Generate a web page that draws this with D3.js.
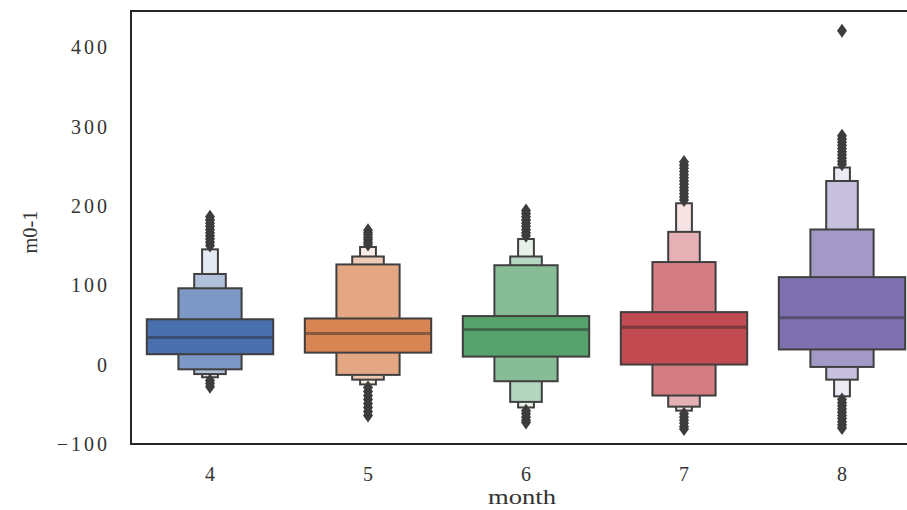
<!DOCTYPE html>
<html>
<head>
<meta charset="utf-8">
<script src="https://cdn.jsdelivr.net/npm/d3@7"></script>
<style>
  html, body { margin: 0; padding: 0; background: #fff; }
  svg { display: block; }
</style>
</head>
<body>
<svg id="chart" width="907" height="510"></svg>
<script>
// Months on the x axis
const months = ["4", "5", "6", "7", "8"];

// Letter-value boxes, innermost (widest) level first: upper and lower edges
const upperEdges = [
  [57, 96, 114, 145],
  [58, 126, 136, 148],
  [61, 125, 136, 158],
  [66, 129, 167, 203],
  [110, 170, 231, 248]
];
const lowerEdges = [
  [13, -6, -12, -16],
  [15, -13, -19, -25],
  [10, -21, -47, -54],
  [0, -39, -53, -58],
  [19, -3, -19, -40]
];
const medians = [34, 39, 44, 47, 59];

// Outlying observations per month
const outliers = [
  [150, 154, 158, 162, 166, 170, 174, 178, 182, 186, -20, -24, -28],
  [151, 154, 157, 160, 163, 166, 169, -29, -34, -39, -44, -49, -54, -59, -64],
  [162, 166, 170, 174, 178, 182, 186, 190, 194, -58, -62, -66, -70, -73],
  [207, 211, 215, 219, 223, 227, 231, 235, 239, 243, 247, 251, 255, -62, -66, -70, -74, -78, -81],
  [252, 256, 260, 264, 268, 272, 276, 280, 284, 288, 420, -44, -48, -52, -56, -60, -64, -68, -72, -76, -80]
];

const yTicks = [-100, 0, 100, 200, 300, 400];
const palette = ["#4A6FAD", "#D98453", "#57A26C", "#C24A51", "#7F71B0"];

const svg = d3.select("#chart");
const plotLeft = 131, plotTop = 11, plotBottom = 444, plotRight = 921;

const x = d3.scaleBand().domain(months).range([plotLeft, plotRight]);
const y = d3.scaleLinear().domain([-100, 445]).range([plotBottom, plotTop]);

svg.append("rect").attr("width", 907).attr("height", 510).attr("fill", "#fff");

const edge = "#3f3f3f";
const boxW = x.bandwidth() * 0.8;

// Fill for a level: base colour blended toward white (lightest at 0.85)
function levelColor(base, i, n) {
  const t = (i / (n - 1)) * 0.85;
  return d3.interpolateRgb(base, "#ffffff")(t);
}

months.forEach((m, mi) => {
  const cx = x(m) + x.bandwidth() / 2;
  const n = upperEdges[mi].length;
  const g = svg.append("g");
  // narrowest level first so wider levels sit on top
  for (let i = n - 1; i >= 0; i--) {
    const w = boxW * Math.pow(2, -i);
    g.append("rect")
      .attr("x", cx - w / 2)
      .attr("width", w)
      .attr("y", y(upperEdges[mi][i]))
      .attr("height", y(lowerEdges[mi][i]) - y(upperEdges[mi][i]))
      .attr("fill", levelColor(palette[mi], i, n))
      .attr("stroke", edge)
      .attr("stroke-width", 2);
  }
  g.append("line")
    .attr("x1", cx - boxW / 2 + 1).attr("x2", cx + boxW / 2 - 1)
    .attr("y1", y(medians[mi])).attr("y2", y(medians[mi]))
    .attr("stroke", "#262626").attr("stroke-opacity", 0.45)
    .attr("stroke-width", 3);

  const diamond = "M0,-7L5,0L0,7L-5,0Z";
  g.selectAll("path.out")
    .data(outliers[mi])
    .join("path")
    .attr("class", "out")
    .attr("d", diamond)
    .attr("transform", d => `translate(${cx},${y(d)})`)
    .attr("fill", "#3d3d3d");
});

// Frame
svg.append("rect")
  .attr("x", plotLeft).attr("y", plotTop)
  .attr("width", plotRight - plotLeft).attr("height", plotBottom - plotTop)
  .attr("fill", "none").attr("stroke", "#262626").attr("stroke-width", 2);

const fontFam = "'Liberation Serif', 'DejaVu Serif', serif";

// Y axis
const yAxis = svg.append("g")
  .attr("transform", `translate(${plotLeft},0)`)
  .call(d3.axisLeft(y).tickValues(yTicks).tickSize(0).tickPadding(0));
yAxis.select(".domain").remove();
yAxis.selectAll("text")
  .attr("x", -21)
  .attr("dy", "0.34em")
  .attr("fill", "#333")
  .style("font-family", fontFam)
  .style("font-size", "20px")
  .style("letter-spacing", "3px");

// X axis
const xAxis = svg.append("g")
  .attr("transform", `translate(0,${plotBottom})`)
  .call(d3.axisBottom(x).tickSize(0).tickPadding(0));
xAxis.select(".domain").remove();
xAxis.selectAll("text")
  .attr("y", 37)
  .attr("dy", 0)
  .attr("fill", "#333")
  .style("font-family", fontFam)
  .style("font-size", "20px");

// Axis titles
svg.append("text")
  .attr("x", 522).attr("y", 504)
  .attr("text-anchor", "middle")
  .attr("fill", "#333")
  .attr("textLength", 68).attr("lengthAdjust", "spacingAndGlyphs")
  .style("font-family", fontFam)
  .style("font-size", "22px")
  .text("month");

svg.append("text")
  .attr("transform", "translate(37,232) rotate(-90)")
  .attr("text-anchor", "middle")
  .attr("fill", "#333")
  .attr("textLength", 43).attr("lengthAdjust", "spacingAndGlyphs")
  .style("font-family", fontFam)
  .style("font-size", "22px")
  .text("m0-1");
</script>
</body>
</html>
